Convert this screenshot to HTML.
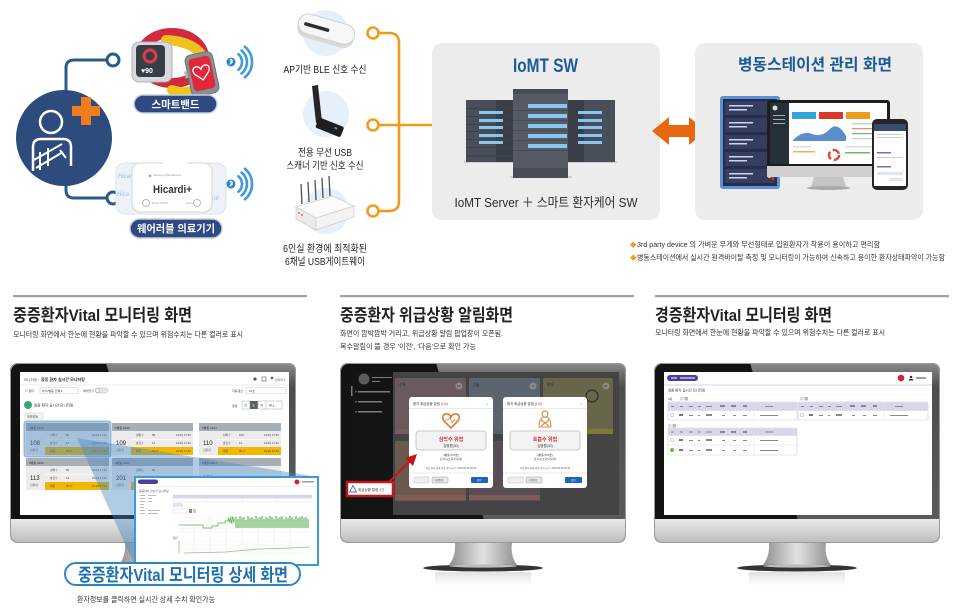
<!DOCTYPE html>
<html><head><meta charset="utf-8"><style>
html,body{margin:0;padding:0;background:#fff;width:960px;height:615px;overflow:hidden;}
svg{display:block;}
text{font-family:"Liberation Sans","Noto Sans CJK KR",sans-serif;}
</style></head><body>
<svg width="960" height="615" viewBox="0 0 960 615" xmlns="http://www.w3.org/2000/svg">
<defs>
 <linearGradient id="chin" x1="0" y1="0" x2="0" y2="1"><stop offset="0" stop-color="#e9e9e9"/><stop offset="1" stop-color="#bcbcbc"/></linearGradient>
 <linearGradient id="neck" x1="0" y1="0" x2="1" y2="0"><stop offset="0" stop-color="#8f8f8f"/><stop offset="0.5" stop-color="#e2e2e2"/><stop offset="1" stop-color="#8f8f8f"/></linearGradient>
 <linearGradient id="refl" x1="0" y1="0" x2="0" y2="1"><stop offset="0" stop-color="#e2e2e2"/><stop offset="1" stop-color="#ffffff"/></linearGradient>
 <linearGradient id="gloss" x1="0" y1="0" x2="0" y2="1"><stop offset="0" stop-color="#8a8a8a"/><stop offset="0.15" stop-color="#4e4e4e"/><stop offset="1" stop-color="#5a5a5a"/></linearGradient>
 <g id="mon">
  <rect x="0" y="0" width="286" height="164" rx="8" fill="#131313"/>
  <path d="M96,0 H278 Q286,0 286,8 V157 H144 Z" fill="url(#gloss)"/>
  <path d="M0,156 H286 V172 Q286,180 278,180 H8 Q0,180 0,172 Z" fill="url(#chin)"/>
  <rect x="0.5" y="0.5" width="285" height="179" rx="8" fill="none" stroke="#9a9a9a"/>
  <path d="M115,180 H172 Q170,193 177,202 H109 Q116,193 115,180 Z" fill="url(#neck)"/>
  <rect x="95" y="209" width="96" height="14" fill="url(#refl)"/>
  <ellipse cx="143" cy="205" rx="60" ry="3.5" fill="#333"/>
  <ellipse cx="143" cy="203" rx="34" ry="1.6" fill="#bdbdbd"/>
 </g>
</defs>
<rect width="960" height="615" fill="#fff"/>

<!-- ============ TOP LEFT ============ -->
<path d="M66,92 V68 Q66,60 74,60 H107" fill="none" stroke="#2b5c88" stroke-width="3"/>
<circle cx="113" cy="60" r="6" fill="#fff" stroke="#2b5c88" stroke-width="3"/>
<path d="M66,184 V190 Q66,198 74,198 H107" fill="none" stroke="#2b5c88" stroke-width="3"/>
<circle cx="113" cy="198" r="6" fill="#fff" stroke="#2b5c88" stroke-width="3"/>
<circle cx="64" cy="138" r="48" fill="#2e4b7e"/>
<rect x="72" y="106" width="28" height="10" fill="#f07d1b"/>
<rect x="81" y="97" width="10" height="28" fill="#f07d1b"/>
<circle cx="51" cy="122" r="11" fill="none" stroke="#fff" stroke-width="2.5"/>
<path d="M33,171 V147 Q33,139 41,139 H63 Q71,139 71,147 V166" fill="none" stroke="#fff" stroke-width="2.5"/>
<path d="M34,160 L62,144 M36,168 L63,152 M60,150 L66,158 M40,152 V170 M48,148 V166" fill="none" stroke="#fff" stroke-width="2"/>

<!-- smartwatch -->
<ellipse cx="172" cy="58" rx="32" ry="25" fill="none" stroke="#d12a3e" stroke-width="10"/>
<path d="M166,40 Q205,42 208,72 M172,90 Q190,96 200,86" fill="none" stroke="#f0c21c" stroke-width="10" stroke-linecap="round"/>
<rect x="132" y="42" width="40" height="40" rx="7" fill="#d6dadf" stroke="#aeb3b8"/>
<rect x="136" y="45" width="29" height="32" rx="4" fill="#363e48"/>
<circle cx="150" cy="56" r="6" fill="none" stroke="#e23a48" stroke-width="3"/>
<text x="141" y="73" font-size="7" fill="#fff" font-weight="700">♥90</text>
<g transform="rotate(-12 202 74)">
 <rect x="188" y="53" width="28" height="42" rx="6" fill="#8a8f95" stroke="#6f747a"/>
 <rect x="191" y="57" width="22" height="33" rx="4" fill="#e0283b"/>
 <path d="M202,80 L195,73 Q192,68 196,66 Q200,65 202,69 Q204,65 208,66 Q212,68 209,73 Z" fill="none" stroke="#fff" stroke-width="1.3"/>
 <rect x="185" y="68" width="3" height="7" fill="#b0b4b8"/>
</g>
<rect x="134" y="95" width="83" height="18" rx="9" fill="#2e4a80" stroke="#c5cfe2" stroke-width="1.5"/>
<text x="175.5" y="108" font-size="10.5" font-weight="700" fill="#fff" text-anchor="middle" textLength="48" lengthAdjust="spacingAndGlyphs">스마트밴드</text>

<!-- hicardi -->
<rect x="116" y="163" width="110" height="51" rx="9" fill="#edf2f8" stroke="#dbe3ec"/>
<text x="118" y="178" font-size="6" fill="#9cc4e8" font-style="italic">Hicardi</text>
<text x="200" y="200" font-size="6" fill="#9cc4e8" font-style="italic">Hicardi</text>
<text x="117" y="196" font-size="6" fill="#9cc4e8" font-style="italic">Hica</text>
<rect x="132" y="163" width="80" height="49" rx="8" fill="#fff" stroke="#d6d6d6"/>
<rect x="163" y="158" width="24" height="10" rx="4" fill="#fff"/>
<circle cx="150" cy="176" r="1.2" fill="#55aee8"/>
<text x="153" y="176" font-size="3" fill="#999">Samsung Bioparams</text>
<text x="153" y="193" font-size="11" fill="#333" font-weight="700" textLength="39" lengthAdjust="spacingAndGlyphs">Hicardi+</text>
<circle cx="146" cy="203" r="3.5" fill="none" stroke="#bbb"/>
<text x="152" y="204" font-size="2.6" fill="#999">Power On/Off</text>
<circle cx="197" cy="203" r="3.5" fill="none" stroke="#bbb"/>
<text x="186" y="204" font-size="2.6" fill="#999">Event</text>
<rect x="130" y="219" width="92" height="19" rx="9.5" fill="#2e4a80" stroke="#c5cfe2" stroke-width="1.5"/>
<text x="176" y="232" font-size="10.5" font-weight="700" fill="#fff" text-anchor="middle" textLength="78" lengthAdjust="spacingAndGlyphs">웨어러블 의료기기</text>

<!-- bluetooth waves -->
<g fill="none" stroke="#3f98e0" stroke-width="2.6" stroke-linecap="round">
 <path d="M238.4,54.3 A10,10 0 0 1 238.4,69.7"/>
 <path d="M241.6,50.5 A15,15 0 0 1 241.6,73.5"/>
 <path d="M244.9,46.7 A20,20 0 0 1 244.9,77.3"/>
 <path d="M238.4,176.3 A10,10 0 0 1 238.4,191.7"/>
 <path d="M241.6,172.5 A15,15 0 0 1 241.6,195.5"/>
 <path d="M244.9,168.7 A20,20 0 0 1 244.9,199.3"/>
</g>
<circle cx="231" cy="62" r="4.5" fill="#2f7fd0"/>
<circle cx="231" cy="184" r="4.5" fill="#2f7fd0"/>
<path d="M229.5,59.5 L232.5,62 L231,63.5 V59 L232.5,60.5 L229.5,64.5" fill="none" stroke="#fff" stroke-width="0.8"/>
<path d="M229.5,181.5 L232.5,184 L231,185.5 V181 L232.5,182.5 L229.5,186.5" fill="none" stroke="#fff" stroke-width="0.8"/>

<!-- ============ DEVICES ============ -->
<circle cx="326" cy="33" r="23" fill="#e5f0fa"/>
<circle cx="326" cy="114" r="23" fill="#e5f0fa"/>
<circle cx="326" cy="211" r="23" fill="#e5f0fa"/>
<!-- router -->
<g transform="rotate(16 326 31)">
 <rect x="297" y="22" width="58" height="21" rx="10" fill="#d9d9d9"/>
 <rect x="297" y="19" width="58" height="20" rx="10" fill="#f7f7f7" stroke="#cfcfcf"/>
 <rect x="303" y="28" width="26" height="3.5" rx="1.5" fill="#2d2d2d"/>
</g>
<!-- usb -->
<path d="M312,86 L318,85 L322,122 L316,123 Z" fill="#262626"/>
<g transform="rotate(22 330 128)">
 <rect x="316" y="122" width="27" height="11" rx="2" fill="#1f1f1f"/>
 <rect x="334" y="125" width="3" height="2" fill="#4a8ad0"/>
</g>
<!-- gateway -->
<g stroke="#5a5a5a" stroke-width="1.4">
 <line x1="302" y1="204" x2="301" y2="184"/><line x1="309" y1="202" x2="308" y2="182"/>
 <line x1="316" y1="200" x2="315" y2="180"/><line x1="323" y1="198" x2="322" y2="178"/>
 <line x1="330" y1="196" x2="329" y2="176"/>
</g>
<polygon points="296,207 333,196 354,206 316,218" fill="#fbfbfb" stroke="#d0d0d0" stroke-width="0.8"/>
<polygon points="296,207 316,218 316,230 296,219" fill="#ebebeb" stroke="#d0d0d0" stroke-width="0.8"/>
<polygon points="316,218 354,206 354,217 316,230" fill="#f3f3f3" stroke="#d0d0d0" stroke-width="0.8"/>
<circle cx="299" cy="213" r="0.9" fill="#e0542a"/><circle cx="302" cy="215" r="0.9" fill="#e0542a"/>

<text x="325" y="73" font-size="10" fill="#222" text-anchor="middle" textLength="83" lengthAdjust="spacingAndGlyphs">AP기반 BLE 신호 수신</text>
<text x="325" y="156" font-size="10" fill="#222" text-anchor="middle" textLength="54" lengthAdjust="spacingAndGlyphs">전용 무선 USB</text>
<text x="325" y="169" font-size="10" fill="#222" text-anchor="middle" textLength="77" lengthAdjust="spacingAndGlyphs">스캐너 기반 신호 수신</text>
<text x="325" y="252" font-size="10" fill="#222" text-anchor="middle" textLength="84" lengthAdjust="spacingAndGlyphs">6인실 환경에 최적화된</text>
<text x="325" y="265" font-size="10" fill="#222" text-anchor="middle" textLength="80" lengthAdjust="spacingAndGlyphs">6채널 USB게이트웨이</text>

<!-- orange connectors -->
<path d="M379,33 H389 Q399,33 399,43 V201 Q399,211 389,211 H379 M379,125 H432" fill="none" stroke="#f39a1c" stroke-width="2.6"/>
<circle cx="373" cy="33" r="5.5" fill="#fff" stroke="#f39a1c" stroke-width="2.6"/>
<circle cx="373" cy="125" r="5.5" fill="#fff" stroke="#f39a1c" stroke-width="2.6"/>
<circle cx="373" cy="211" r="5.5" fill="#fff" stroke="#f39a1c" stroke-width="2.6"/>

<!-- ============ IoMT BOX ============ -->
<rect x="432" y="43" width="228" height="177" rx="10" fill="#ececec"/>
<text x="545.5" y="72" font-size="19" font-weight="700" fill="#1b5b98" text-anchor="middle" textLength="65" lengthAdjust="spacingAndGlyphs">IoMT SW</text>
<!-- servers -->
<rect x="464" y="161" width="153" height="2" fill="#cfcfcf"/>
<rect x="466" y="100" width="48" height="62" fill="#4a4e58"/>
<rect x="496" y="100" width="18" height="62" fill="#3a3e47"/>
<rect x="568" y="100" width="47" height="62" fill="#4a4e58"/>
<rect x="568" y="100" width="16" height="62" fill="#3a3e47"/>
<g fill="#3f434c"><rect x="466" y="108" width="48" height="1"/><rect x="466" y="116" width="48" height="1"/><rect x="466" y="124" width="48" height="1"/><rect x="466" y="131" width="48" height="1"/><rect x="466" y="139" width="48" height="1"/><rect x="466" y="147" width="48" height="1"/><rect x="466" y="155" width="48" height="2"/></g>
<g fill="#86c6f2">
 <rect x="479" y="111" width="24" height="3"/><rect x="479" y="119" width="24" height="3"/><rect x="479" y="126" width="24" height="3"/><rect x="479" y="134" width="24" height="3"/><rect x="479" y="141" width="24" height="3"/>
 <rect x="578" y="111" width="24" height="3"/><rect x="578" y="119" width="24" height="3"/><rect x="578" y="126" width="24" height="3"/><rect x="578" y="134" width="24" height="3"/><rect x="578" y="141" width="24" height="3"/>
</g>
<rect x="510" y="176" width="62" height="2" fill="#cfcfcf"/>
<rect x="513" y="89" width="55" height="89" fill="#555a64"/>
<rect x="513" y="89" width="55" height="5" fill="#474b54"/>
<g fill="#474b54"><rect x="513" y="110" width="55" height="1"/><rect x="513" y="120" width="55" height="1"/><rect x="513" y="130" width="55" height="1"/><rect x="513" y="140" width="55" height="1"/><rect x="513" y="150" width="55" height="1"/><rect x="513" y="168" width="55" height="10"/></g>
<g fill="#86c6f2"><rect x="528" y="104" width="39" height="4"/><rect x="528" y="114" width="39" height="4"/><rect x="528" y="124" width="39" height="4"/><rect x="528" y="134" width="39" height="4"/><rect x="528" y="144" width="39" height="4"/></g>
<text x="546" y="207" font-size="13" fill="#2a2a2a" text-anchor="middle" textLength="183" lengthAdjust="spacingAndGlyphs">IoMT Server ＋ 스마트 환자케어 SW</text>

<!-- double arrow -->
<polygon points="652,131 669,117 669,125 689,125 689,117 706,131 689,145 689,137 669,137 669,145" fill="#e8660f"/>

<!-- ============ WARD BOX ============ -->
<rect x="695" y="43" width="228" height="177" rx="10" fill="#ececec"/>
<text x="815" y="70" font-size="16" font-weight="700" fill="#1b5b98" text-anchor="middle" textLength="154" lengthAdjust="spacingAndGlyphs">병동스테이션 관리 화면</text>
<!-- rack -->
<rect x="720" y="96" width="60" height="93" rx="3" fill="#5d90d8"/>
<rect x="723" y="99" width="54" height="87" fill="#262d48"/>
<g>
 <rect x="725" y="101" width="50" height="14" fill="#353d60"/><rect x="725" y="118" width="50" height="14" fill="#353d60"/><rect x="725" y="135" width="50" height="14" fill="#353d60"/><rect x="725" y="152" width="50" height="14" fill="#353d60"/><rect x="725" y="169" width="50" height="14" fill="#353d60"/>
</g>
<g fill="#c9d6f2">
 <rect x="729" y="105" width="24" height="1.5"/><rect x="729" y="109" width="18" height="1.5"/>
 <rect x="729" y="122" width="24" height="1.5"/><rect x="729" y="126" width="18" height="1.5"/>
 <rect x="729" y="139" width="24" height="1.5"/><rect x="729" y="143" width="18" height="1.5"/>
 <rect x="729" y="156" width="24" height="1.5"/><rect x="729" y="160" width="18" height="1.5"/>
 <rect x="729" y="173" width="24" height="1.5"/><rect x="729" y="177" width="18" height="1.5"/>
</g>
<g fill="#f2c230"><rect x="768" y="104" width="3" height="6"/><rect x="768" y="121" width="3" height="6"/><rect x="768" y="138" width="3" height="6"/><rect x="768" y="155" width="3" height="6"/><rect x="768" y="172" width="3" height="6"/></g>
<rect x="772" y="176" width="2" height="4" fill="#e03030"/>
<!-- monitor -->
<rect x="767" y="100" width="123" height="68" rx="3" fill="#1e1e1e"/>
<rect x="770" y="103" width="117" height="61" fill="#fff"/>
<rect x="770" y="103" width="19" height="61" fill="#243038"/>
<circle cx="775" cy="108" r="2.5" fill="#ddd"/>
<g fill="#aab"><rect x="773" y="115" width="12" height="1"/><rect x="773" y="119" width="12" height="1"/><rect x="773" y="123" width="12" height="1"/></g>
<rect x="792" y="112" width="24" height="7" fill="#31a3dd"/><rect x="819" y="112" width="24" height="7" fill="#d9362c"/><rect x="846" y="112" width="24" height="7" fill="#e99c1f"/>
<path d="M793,140 Q803,130 812,134 Q822,138 831,128 Q838,122 846,136 L846,141 L793,141 Z" fill="#5b8fcc"/>
<g fill="#ccc"><rect x="852" y="123" width="28" height="1.5"/><rect x="852" y="128" width="28" height="1.2" fill="#e87"/><rect x="852" y="133" width="28" height="1.2" fill="#6b6"/><rect x="852" y="138" width="28" height="1.2"/></g>
<circle cx="834" cy="155" r="5" fill="none" stroke="#e04a3a" stroke-width="2.5" stroke-dasharray="8 3"/>
<g fill="#ddd"><rect x="793" y="146" width="18" height="1.5"/><rect x="793" y="151" width="22" height="1.5" fill="#f2b04a"/><rect x="845" y="146" width="30" height="1.5"/><rect x="845" y="152" width="25" height="1.5" fill="#6b6"/></g>
<rect x="767" y="166" width="123" height="11" fill="#d0d0d0"/>
<path d="M814,177 H843 L846,187 H811 Z" fill="#c4c4c4"/>
<ellipse cx="828.5" cy="188" rx="22" ry="2" fill="#aaa"/>
<!-- phone -->
<rect x="872" y="119" width="36" height="71" rx="5" fill="#262626"/>
<rect x="874" y="124" width="32" height="62" fill="#fff"/>
<rect x="874" y="124" width="32" height="7" fill="#3b4b6e"/>
<g fill="#ccd"><rect x="877" y="134" width="26" height="1"/><rect x="877" y="137" width="26" height="1"/><rect x="877" y="152" width="14" height="1.5" fill="#6a74c0"/><rect x="877" y="157" width="26" height="1"/><rect x="877" y="166" width="14" height="1.5" fill="#6a74c0"/><rect x="877" y="172" width="26" height="3" fill="#dde4f4"/><rect x="889" y="178" width="14" height="3" fill="#dde4f4"/></g>

<!-- bullets -->
<text x="630" y="247" font-size="6.5" fill="#f39a1c">◆</text>
<text x="630" y="260" font-size="6.5" fill="#f39a1c">◆</text>
<text x="637" y="247" font-size="7.5" fill="#333" textLength="243" lengthAdjust="spacingAndGlyphs">3rd party device 의 가벼운 무게와 무선형태로 입원환자가 착용이 용이하고 편리함</text>
<text x="637" y="260" font-size="7.5" fill="#333" textLength="308" lengthAdjust="spacingAndGlyphs">병동스테이션에서 실시간 원격바이탈 측정 및 모니터링이 가능하여 신속하고 용이한 환자상태파악이 가능함</text>

<!-- ============ BOTTOM HEADERS ============ -->
<rect x="13" y="295" width="294" height="2.2" fill="#a2a2a2"/>
<rect x="340" y="295" width="294" height="2.2" fill="#a2a2a2"/>
<rect x="655" y="295" width="294" height="2.2" fill="#a2a2a2"/>
<text x="13" y="321" font-size="17" font-weight="700" fill="#222" textLength="179" lengthAdjust="spacingAndGlyphs">중증환자Vital 모니터링 화면</text>
<text x="13" y="337" font-size="7.5" fill="#333" textLength="230" lengthAdjust="spacingAndGlyphs">모니터링 화면에서 한눈에 현황을 파악할 수 있으며 위험수치는 다른 컬러로 표시</text>
<text x="340" y="321" font-size="17" font-weight="700" fill="#222" textLength="173" lengthAdjust="spacingAndGlyphs">중증환자 위급상황 알림화면</text>
<text x="340" y="336" font-size="7.5" fill="#333" textLength="163" lengthAdjust="spacingAndGlyphs">화면이 깜박깜박 거리고, 위급상황 알림 팝업창이 오픈됨.</text>
<text x="340" y="349" font-size="7.5" fill="#333" textLength="136" lengthAdjust="spacingAndGlyphs">복수알림이 뜰 경우 '이전', '다음'으로 확인 가능</text>
<text x="655" y="321" font-size="17" font-weight="700" fill="#222" textLength="177" lengthAdjust="spacingAndGlyphs">경증환자Vital 모니터링 화면</text>
<text x="655" y="335" font-size="7.5" fill="#333" textLength="230" lengthAdjust="spacingAndGlyphs">모니터링 화면에서 한눈에 현황을 파악할 수 있으며 위험수치는 다른 컬러로 표시</text>

<!-- ============ MONITORS ============ -->
<use href="#mon" transform="translate(10,363)"/>
<use href="#mon" transform="translate(340,363)"/>
<use href="#mon" transform="translate(654,363)"/>

<!-- LEFT SCREEN -->
<rect x="20" y="372" width="269" height="143" fill="#fff"/>
<text x="24" y="381" font-size="3.6" fill="#5a4aa0">모니터링 ›</text>
<text x="41" y="381" font-size="4" fill="#222" font-weight="700">중증 환자 실시간 모니터링</text>
<g fill="#555"><circle cx="255" cy="379" r="1.6"/><rect x="262" y="377" width="4" height="4" fill="none" stroke="#555" stroke-width="0.6"/><circle cx="272" cy="378" r="1.3"/></g>
<text x="275" y="381" font-size="3" fill="#555">관리자 ▾</text>
<line x1="20" y1="385" x2="289" y2="385" stroke="#e6e6e6" stroke-width="0.8"/>
<text x="25" y="392" font-size="3" fill="#444">☷ 필터</text>
<rect x="40" y="387.5" width="38" height="6" rx="1" fill="#fff" stroke="#ccc" stroke-width="0.6"/>
<text x="42" y="392" font-size="3" fill="#444">부서/병동 전체 ▾</text>
<text x="83" y="392" font-size="3" fill="#444">깨어있기</text>
<rect x="95" y="388" width="13" height="5" rx="2.5" fill="#e4e4e4" stroke="#bbb" stroke-width="0.5"/><circle cx="97.5" cy="390.5" r="2" fill="#fff" stroke="#aaa" stroke-width="0.5"/>
<text x="232" y="392" font-size="3" fill="#444">자동갱신</text>
<rect x="246" y="387.5" width="40" height="6" rx="1" fill="#fff" stroke="#ccc" stroke-width="0.6"/>
<text x="249" y="392" font-size="3" fill="#444">10초</text>
<circle cx="28" cy="405" r="4" fill="#3aa676"/>
<text x="34" y="406.5" font-size="3.6" fill="#333">중증 환자 실시간 모니터링</text>
<text x="232" y="407" font-size="3" fill="#444">일정</text>
<rect x="242" y="401" width="8" height="8" fill="#fff" stroke="#bbb" stroke-width="0.6"/><rect x="250" y="401" width="8" height="8" fill="#5a6068"/><rect x="258" y="401" width="8" height="8" fill="#fff" stroke="#bbb" stroke-width="0.6"/><rect x="266" y="401" width="16" height="8" fill="#fff" stroke="#bbb" stroke-width="0.6"/>
<text x="244.5" y="406.5" font-size="3.5" fill="#444">D</text><text x="252.5" y="406.5" font-size="3.5" fill="#fff">E</text><text x="260.5" y="406.5" font-size="3.5" fill="#444">N</text><text x="269" y="406.5" font-size="3.5" fill="#444">ALL</text>
<rect x="25" y="413" width="18" height="6" rx="1" fill="#f4f4f4" stroke="#ccc" stroke-width="0.5"/><text x="27" y="417.5" font-size="3" fill="#555">일반병동</text>
<!-- cards -->
<g>
 <rect x="26" y="423" width="83" height="8" fill="#a7aeb5"/><rect x="26" y="431" width="83" height="24" fill="#ececec"/><rect x="45" y="447" width="64" height="8" fill="#f2b705"/>
 <rect x="112" y="423" width="81" height="8" fill="#a7aeb5"/><rect x="112" y="431" width="81" height="24" fill="#ececec"/><rect x="131" y="447" width="62" height="8" fill="#f2b705"/>
 <rect x="199" y="423" width="82" height="8" fill="#a7aeb5"/><rect x="199" y="431" width="82" height="24" fill="#ececec"/><rect x="218" y="447" width="63" height="8" fill="#f2b705"/>
 <rect x="26" y="458" width="83" height="8" fill="#a7aeb5"/><rect x="26" y="466" width="83" height="24" fill="#ececec"/><rect x="45" y="482" width="64" height="8" fill="#f2b705"/>
 <rect x="112" y="458" width="81" height="8" fill="#a7aeb5"/><rect x="112" y="466" width="81" height="24" fill="#ececec"/><rect x="131" y="482" width="62" height="8" fill="#f2b705"/>
 <rect x="199" y="458" width="82" height="8" fill="#a7aeb5"/><rect x="199" y="466" width="82" height="24" fill="#ececec"/><rect x="218" y="482" width="63" height="8" fill="#f2b705"/>
</g>
<g fill="#fff"><rect x="45" y="439" width="64" height="0.6"/><rect x="131" y="439" width="62" height="0.6"/><rect x="218" y="439" width="63" height="0.6"/><rect x="45" y="474" width="64" height="0.6"/><rect x="131" y="474" width="62" height="0.6"/><rect x="218" y="474" width="63" height="0.6"/></g>
<g font-size="3" fill="#333">
 <text x="29" y="429">2병동 2103</text><text x="115" y="429">5병동 5102</text><text x="202" y="429">5병동 5104</text>
 <text x="29" y="464">5병동 5102</text><text x="115" y="464">2병동 2103</text><text x="202" y="464">5병동 5104</text>
</g>
<g font-size="6" fill="#222">
 <text x="30" y="445">108</text><text x="116" y="445">109</text><text x="203" y="445">110</text>
 <text x="30" y="480">113</text><text x="116" y="480">201</text><text x="203" y="480">131</text>
</g>
<g font-size="2.8" fill="#444">
 <text x="30" y="451">김환자</text><text x="116" y="451">김환자</text><text x="203" y="451">김환자</text>
 <text x="30" y="486">김환자</text><text x="116" y="486">김환자</text><text x="203" y="486">김환자</text>
 <text x="50" y="436">심박수</text><text x="66" y="436">85</text><text x="92" y="436">10/24 17:26</text>
 <text x="50" y="444">호흡수</text><text x="66" y="444">14</text><text x="92" y="444">10/24 17:26</text>
 <text x="50" y="452">체온</text><text x="66" y="452">35.2°</text><text x="92" y="452">10/24 17:26</text>
 <text x="136" y="436">심박수</text><text x="152" y="436">85</text><text x="176" y="436">10/24 17:26</text>
 <text x="136" y="444">호흡수</text><text x="152" y="444">14</text><text x="176" y="444">10/24 17:26</text>
 <text x="136" y="452">체온</text><text x="152" y="452">35.2°</text><text x="176" y="452">10/24 17:26</text>
 <text x="223" y="436">심박수</text><text x="239" y="436">108</text><text x="264" y="436">10/24 17:26</text>
 <text x="223" y="444">호흡수</text><text x="239" y="444">14</text><text x="264" y="444">10/24 17:26</text>
 <text x="223" y="452">체온</text><text x="239" y="452">35.4°</text><text x="264" y="452">10/24 17:26</text>
 <text x="50" y="471">심박수</text><text x="66" y="471">85</text><text x="92" y="471">10/24 17:26</text>
 <text x="50" y="479">호흡수</text><text x="66" y="479">14</text><text x="92" y="479">10/24 17:26</text>
 <text x="50" y="487">체온</text><text x="66" y="487">35.2°</text><text x="92" y="487">10/24 17:26</text>
 <text x="136" y="471">심박수</text><text x="152" y="471">85</text>
 <text x="136" y="479">호흡수</text><text x="152" y="479">14</text>
</g>
<!-- highlight & beam -->
<rect x="24" y="421" width="87" height="36" rx="3" fill="rgba(80,140,195,0.45)" stroke="rgba(80,140,195,0.6)"/>
<polygon points="77,438 318,477 135,566" fill="rgba(70,135,195,0.42)"/>
<!-- detail popup -->
<rect x="135" y="477" width="183" height="88" fill="#fff" stroke="#3d9ad7" stroke-width="2"/>
<rect x="138" y="479.5" width="20" height="4.5" rx="2.2" fill="#4a3e98"/>
<circle cx="297" cy="482" r="2.5" fill="#d3232f"/>
<rect x="302" y="481" width="12" height="1.5" fill="#999"/>
<line x1="136" y1="486.5" x2="317" y2="486.5" stroke="#eee" stroke-width="0.8"/>
<text x="139" y="492" font-size="2.8" fill="#555">중증환자 실시간 모니터링</text>
<g fill="#bbb"><rect x="140" y="495" width="5" height="1"/><rect x="148" y="495" width="8" height="1"/><rect x="140" y="498" width="5" height="1"/><rect x="148" y="498" width="4" height="1"/><rect x="140" y="501" width="5" height="1"/><rect x="148" y="501" width="4" height="1"/><rect x="140" y="504" width="4" height="1"/><rect x="140" y="507" width="4" height="1"/><rect x="140" y="510" width="5" height="1"/><rect x="148" y="510" width="12" height="1"/><rect x="140" y="513" width="5" height="1"/><rect x="148" y="513" width="10" height="1"/></g>
<rect x="173" y="495" width="139" height="7" fill="#fff" stroke="#ddd" stroke-width="0.5"/>
<rect x="173" y="495" width="139" height="3.3" fill="#d9d5ec"/>
<g stroke="#ddd" stroke-width="0.5"><line x1="207" y1="495" x2="207" y2="502"/><line x1="242" y1="495" x2="242" y2="502"/><line x1="277" y1="495" x2="277" y2="502"/></g>
<rect x="173" y="503" width="10" height="4" rx="1" fill="#e4e2f0"/>
<rect x="173" y="509" width="14" height="4" fill="#fff" stroke="#ccc" stroke-width="0.4"/><rect x="189" y="509" width="3" height="4" fill="#888"/><rect x="193" y="509" width="3" height="4" fill="#ccc"/>
<g stroke="#e4e4e4" stroke-width="0.4">
 <line x1="178" y1="517" x2="310" y2="517"/><line x1="178" y1="521" x2="310" y2="521"/><line x1="178" y1="525" x2="310" y2="525"/><line x1="178" y1="529" x2="310" y2="529"/><line x1="178" y1="532" x2="310" y2="532"/>
 <line x1="178" y1="541" x2="310" y2="541"/><line x1="178" y1="545" x2="310" y2="545"/><line x1="178" y1="549" x2="310" y2="549"/><line x1="178" y1="553" x2="310" y2="553"/>
 <line x1="194" y1="515" x2="194" y2="555"/><line x1="210" y1="515" x2="210" y2="555"/><line x1="226" y1="515" x2="226" y2="555"/><line x1="242" y1="515" x2="242" y2="555"/><line x1="258" y1="515" x2="258" y2="555"/><line x1="274" y1="515" x2="274" y2="555"/><line x1="290" y1="515" x2="290" y2="555"/>
</g>
<path d="M179,525 H203 V528 H212 V526 H218 V523 H225 V521 L228,521 V518 L230,523 V517 L232,524 V516 L234,523 V517" fill="none" stroke="#55b24a" stroke-width="0.7"/>
<g stroke="#3f9f36" stroke-width="0.9">
 <path d="M236,528 V517 M238,528 V519 M240,528 V516 M242,528 V518 M244,528 V517 M246,528 V520 M248,528 V516 M250,528 V518 M252,528 V517 M254,528 V519 M256,528 V516 M258,528 V518 M260,528 V517 M262,528 V516 M264,528 V519 M266,528 V517 M268,528 V518 M270,528 V516 M272,528 V517 M274,528 V519 M276,528 V516 M278,528 V518 M280,528 V517 M282,528 V516 M284,528 V519 M286,528 V517 M288,528 V518 M290,528 V516 M292,528 V517 M294,528 V519 M296,528 V516 M298,528 V518 M300,528 V517 M302,528 V516 M304,528 V518 M306,528 V517 M308,528 V519"/>
</g>
<path d="M179,541 V553 M184,553 L225,552 L260,549 L290,548 L310,547" fill="none" stroke="#7ccf72" stroke-width="0.8"/>
<text x="173" y="539" font-size="2.6" fill="#555">체온</text>
<!-- label -->
<rect x="65" y="563" width="235" height="22" rx="11" fill="#fff" stroke="#2d86c2" stroke-width="2"/>
<text x="183" y="581" font-size="17.5" font-weight="700" fill="#1f70ae" text-anchor="middle" textLength="210" lengthAdjust="spacingAndGlyphs">중증환자Vital 모니터링 상세 화면</text>
<text x="77" y="602" font-size="7.5" fill="#333" textLength="138" lengthAdjust="spacingAndGlyphs">환자정보를 클릭하면 실시간 상세 수치 확인가능</text>

<!-- MIDDLE SCREEN -->
<rect x="350" y="372" width="269" height="143" fill="#444"/>
<rect x="350" y="372" width="43" height="143" fill="#141414"/>
<circle cx="364" cy="379" r="5.5" fill="#5c5c5c"/>
<g fill="#7c7c7c"><rect x="372" y="377" width="20" height="1"/><rect x="372" y="381" width="8" height="1"/><rect x="358" y="391" width="32" height="1.5"/><rect x="358" y="401" width="24" height="1.5"/><rect x="358" y="411" width="24" height="1.5"/><circle cx="356" cy="391.7" r="0.8"/><circle cx="356" cy="401.7" r="0.8"/><circle cx="356" cy="411.7" r="0.8"/><rect x="351" y="386" width="1.5" height="10"/></g>
<rect x="395" y="378" width="71" height="56" rx="2" fill="#6a5a5e"/><rect x="395" y="429" width="71" height="5" fill="#7a5c5a"/>
<rect x="469" y="378" width="71" height="56" rx="2" fill="#5c646d"/><rect x="469" y="429" width="71" height="5" fill="#56606a"/>
<rect x="543" y="378" width="70" height="56" rx="2" fill="#67664a"/><rect x="543" y="429" width="70" height="5" fill="#7c7a3a"/>
<rect x="395" y="441" width="71" height="60" rx="2" fill="#6a5a4e"/><rect x="395" y="495" width="71" height="5" fill="#845a55"/>
<rect x="469" y="441" width="71" height="60" rx="2" fill="#574e56"/><rect x="469" y="495" width="71" height="5" fill="#7e5a5a"/>
<g font-size="3.5" fill="#2a2a2a"><text x="399" y="386">수액</text><text x="473" y="386">기울</text><text x="547" y="386">환자</text></g>
<g fill="#8a8a8a"><circle cx="459" cy="386" r="3.5"/><circle cx="533" cy="386" r="3.5"/><circle cx="606" cy="386" r="3.5"/></g>
<g font-size="3" fill="#222"><text x="457" y="387.2">10</text><text x="532" y="387.2">0</text><text x="604" y="387.2">20</text></g>
<circle cx="592" cy="396" r="6" fill="none" stroke="#2a2a2a" stroke-width="1.2"/>
<!-- popups -->
<g>
 <rect x="409" y="397" width="84" height="91" rx="3" fill="#fff"/>
 <text x="413" y="405" font-size="3.4" fill="#333">환자 위급상황 알림 <tspan fill="#d8262c">(1/4)</tspan></text>
 <text x="486" y="405.5" font-size="4" fill="#999">×</text>
 <line x1="409" y1="408.5" x2="493" y2="408.5" stroke="#e2e2e2" stroke-width="0.7"/>
 <path d="M451,428 L444,421 Q441,416 445,414 Q449,413 451,417 Q453,413 457,414 Q461,416 458,421 Z" fill="none" stroke="#e27a30" stroke-width="1.6"/>
 <path d="M445,420 L448,420 L450,417 L452,423 L454,420 L457,420" fill="none" stroke="#e27a30" stroke-width="0.8"/>
 <rect x="416" y="431" width="70" height="19" rx="3" fill="#f3f3f3" stroke="#bbb" stroke-width="0.8"/>
 <text x="451" y="441" font-size="5" font-weight="700" fill="#d8262c" text-anchor="middle">심박수 위험</text>
 <text x="451" y="447" font-size="3.4" fill="#333" text-anchor="middle">김병원(30)</text>
 <text x="451" y="456" font-size="2.8" fill="#444" text-anchor="middle">4병동(703호)</text>
 <text x="451" y="460" font-size="2.8" fill="#444" text-anchor="middle">김자시(소화기내과)</text>
 <text x="451" y="469" font-size="2.4" fill="#555" text-anchor="middle">응급 환자 상태 이상 감지 시간 : 2024.03.06 05:35</text>
 <line x1="409" y1="473" x2="493" y2="473" stroke="#e2e2e2" stroke-width="0.7"/>
 <rect x="414" y="477" width="15" height="6" rx="1" fill="#eee" stroke="#bbb" stroke-width="0.5"/>
 <rect x="432" y="477" width="16" height="6" rx="1" fill="#e8e8e8" stroke="#999" stroke-width="0.5"/>
 <text x="434.5" y="481" font-size="2.4" fill="#444">이전알림</text>
 <rect x="471" y="477" width="17" height="6" rx="1" fill="#1e63b8"/>
 <text x="477" y="481" font-size="2.4" fill="#fff">확인</text>
</g>
<g>
 <rect x="503" y="397" width="84" height="91" rx="3" fill="#fff"/>
 <text x="507" y="405" font-size="3.4" fill="#333">환자 위급상황 알림 <tspan fill="#d8262c">(1/4)</tspan></text>
 <text x="580" y="405.5" font-size="4" fill="#999">×</text>
 <line x1="503" y1="408.5" x2="587" y2="408.5" stroke="#e2e2e2" stroke-width="0.7"/>
 <circle cx="545" cy="414" r="3" fill="none" stroke="#e28a4a" stroke-width="1.2"/>
 <path d="M539,427 Q539,417 545,417 Q551,417 551,427 Z M541,420 L549,426 M549,420 L541,426" fill="none" stroke="#e28a4a" stroke-width="1.1"/>
 <rect x="510" y="431" width="70" height="19" rx="3" fill="#f3f3f3" stroke="#bbb" stroke-width="0.8"/>
 <text x="545" y="441" font-size="5" font-weight="700" fill="#d8262c" text-anchor="middle">호흡수 위험</text>
 <text x="545" y="447" font-size="3.4" fill="#333" text-anchor="middle">김병원(30)</text>
 <text x="545" y="456" font-size="2.8" fill="#444" text-anchor="middle">4병동(703호)</text>
 <text x="545" y="460" font-size="2.8" fill="#444" text-anchor="middle">김자시(소화기내과)</text>
 <text x="545" y="469" font-size="2.4" fill="#555" text-anchor="middle">응급 환자 상태 이상 감지 시간 : 2024.03.06 05:35</text>
 <line x1="503" y1="473" x2="587" y2="473" stroke="#e2e2e2" stroke-width="0.7"/>
 <rect x="508" y="477" width="15" height="6" rx="1" fill="#eee" stroke="#bbb" stroke-width="0.5"/>
 <rect x="526" y="477" width="16" height="6" rx="1" fill="#e8e8e8" stroke="#999" stroke-width="0.5"/>
 <text x="528.5" y="481" font-size="2.4" fill="#444">이전알림</text>
 <rect x="565" y="477" width="17" height="6" rx="1" fill="#1e63b8"/>
 <text x="571" y="481" font-size="2.4" fill="#fff">확인</text>
</g>
<!-- red alert -->
<line x1="389" y1="482" x2="412" y2="459" stroke="#c8141c" stroke-width="2"/>
<polygon points="417,454 405,458 413,466" fill="#c8141c"/>
<rect x="347" y="482" width="46" height="14" fill="#fff" stroke="#c8141c" stroke-width="2.5"/>
<path d="M353,485.5 L356.5,492 H349.5 Z" fill="none" stroke="#3a7cc8" stroke-width="0.9"/>
<text x="358" y="490.8" font-size="3.5" fill="#333">위급상황 알림 <tspan fill="#d8262c">4건</tspan></text>

<!-- RIGHT SCREEN -->
<rect x="664" y="372" width="268" height="143" fill="#fff"/>
<rect x="667" y="375" width="31" height="6" rx="3" fill="#4a3f98"/>
<rect x="671" y="377.3" width="6" height="1.4" fill="#c9c4ee"/><rect x="680" y="377.3" width="15" height="1.4" fill="#c9c4ee"/>
<circle cx="901" cy="378" r="3.3" fill="#d3232f"/>
<circle cx="911" cy="377" r="1.3" fill="#333"/><rect x="909" y="379" width="4" height="1.5" fill="#333"/>
<rect x="916" y="377.3" width="10" height="1.4" fill="#777"/>
<line x1="664" y1="385" x2="932" y2="385" stroke="#e3e0f0" stroke-width="1.5"/>
<text x="668" y="391.5" font-size="3.4" fill="#333">경증 환자 실시간 모니터링</text>
<line x1="664" y1="394" x2="932" y2="394" stroke="#eee" stroke-width="0.6"/>
<text x="668" y="400" font-size="3" fill="#555">8층</text>
<rect x="680" y="397" width="3.5" height="3.5" fill="#ddd"/><rect x="684.5" y="397" width="3.5" height="3.5" fill="#bbb"/>
<rect x="800" y="397" width="3.5" height="3.5" fill="#ddd"/><rect x="804.5" y="397" width="3.5" height="3.5" fill="#bbb"/>
<rect x="668" y="424" width="3.5" height="3.5" fill="#ddd"/><rect x="672.5" y="424" width="3.5" height="3.5" fill="#bbb"/>
<g fill="#fff" stroke="#cfcfcf" stroke-width="0.6">
 <rect x="668" y="402" width="129" height="18" rx="1.5"/>
 <rect x="798" y="402" width="130" height="18" rx="1.5"/>
 <rect x="668" y="428" width="129" height="27" rx="1.5"/>
</g>
<g fill="#d9d5ec">
 <rect x="668.3" y="402.3" width="128.4" height="8.5"/>
 <rect x="798.3" y="402.3" width="129.4" height="8.5"/>
 <rect x="668.3" y="428.3" width="128.4" height="7.5"/>
</g>
<line x1="668" y1="445" x2="797" y2="445" stroke="#ddd" stroke-width="0.6"/>
<g stroke="#e0e0e0" stroke-width="0.5">
 <line x1="754" y1="402" x2="754" y2="420"/><line x1="884" y1="402" x2="884" y2="420"/><line x1="754" y1="428" x2="754" y2="455"/>
</g>
<g fill="#888">
 <rect x="671" y="406" width="3" height="1"/><rect x="680" y="406" width="3" height="1"/><rect x="689" y="406" width="4" height="1"/><rect x="698" y="406" width="3" height="1"/><rect x="706" y="406" width="6" height="1"/><rect x="720" y="405" width="5" height="2"/><rect x="731" y="405" width="5" height="2"/><rect x="743" y="405" width="4" height="2"/><rect x="765" y="406" width="8" height="1"/>
 <rect x="801" y="406" width="3" height="1"/><rect x="810" y="406" width="3" height="1"/><rect x="819" y="406" width="4" height="1"/><rect x="828" y="406" width="3" height="1"/><rect x="836" y="406" width="6" height="1"/><rect x="850" y="405" width="5" height="2"/><rect x="861" y="405" width="5" height="2"/><rect x="873" y="405" width="4" height="2"/><rect x="895" y="406" width="8" height="1"/>
 <rect x="671" y="431.5" width="3" height="1"/><rect x="680" y="431.5" width="3" height="1"/><rect x="689" y="431.5" width="4" height="1"/><rect x="698" y="431.5" width="3" height="1"/><rect x="706" y="431.5" width="6" height="1"/><rect x="720" y="431" width="5" height="2"/><rect x="731" y="431" width="5" height="2"/><rect x="743" y="431" width="4" height="2"/><rect x="765" y="431.5" width="8" height="1"/>
 <rect x="689" y="415" width="4" height="1"/><rect x="698" y="415" width="2" height="1"/><rect x="706" y="414" width="6" height="2"/><rect x="722" y="415" width="3" height="1"/><rect x="733" y="415" width="3" height="1"/><rect x="743" y="415" width="4" height="1"/><rect x="760" y="415" width="18" height="1"/>
 <rect x="819" y="415" width="4" height="1"/><rect x="828" y="415" width="2" height="1"/><rect x="836" y="414" width="6" height="2"/><rect x="852" y="415" width="3" height="1"/><rect x="863" y="415" width="3" height="1"/><rect x="873" y="415" width="4" height="1"/><rect x="890" y="415" width="18" height="1"/>
 <rect x="689" y="440" width="4" height="1"/><rect x="698" y="440" width="2" height="1"/><rect x="706" y="439" width="6" height="2"/><rect x="722" y="440" width="3" height="1"/><rect x="733" y="440" width="3" height="1"/><rect x="743" y="440" width="4" height="1"/><rect x="760" y="440" width="18" height="1"/>
 <rect x="689" y="450" width="4" height="1"/><rect x="698" y="450" width="2" height="1"/><rect x="706" y="449" width="6" height="2"/><rect x="722" y="450" width="3" height="1"/><rect x="733" y="450" width="3" height="1"/><rect x="743" y="450" width="4" height="1"/><rect x="760" y="450" width="18" height="1"/>
</g>
<g fill="none" stroke="#b8b2da" stroke-width="0.6"><circle cx="672" cy="415" r="1.8"/><circle cx="802" cy="415" r="1.8"/><circle cx="672" cy="440" r="1.8"/></g>
<circle cx="672" cy="450" r="2" fill="#6cbb3c"/>
<g fill="#777"><rect x="679" y="414" width="4" height="2"/><rect x="809" y="414" width="4" height="2"/><rect x="679" y="439" width="4" height="2"/><rect x="679" y="449" width="4" height="2"/></g>
</svg>
</body></html>
